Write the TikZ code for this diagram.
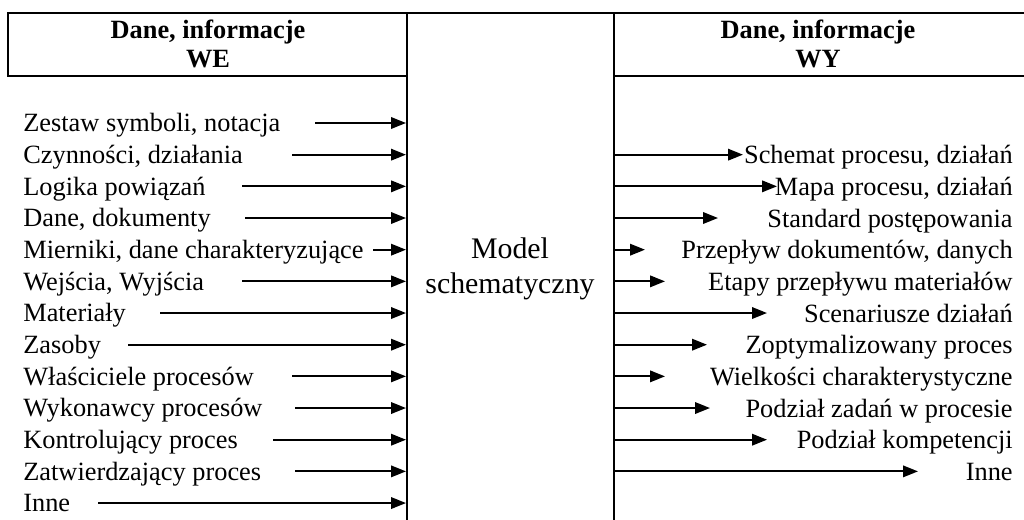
\documentclass[tikz,border=0pt]{standalone}
\usepackage{fontspec}
\setmainfont{Liberation Serif}
\usetikzlibrary{arrows.meta}

\tikzset{
  rule/.style={line width=1.4pt},
  feed/.style={-{Triangle[length=0.3cm,width=0.23cm]},line width=1.1pt},
  item/.style={inner sep=0pt,font=\fontsize{15}{18}\selectfont},
  head/.style={inner sep=0pt,align=center,font=\fontsize{15}{16.5}\selectfont\bfseries},
}

\begin{document}
\begin{tikzpicture}[x=0.02cm,y=-0.02cm]
    \useasboundingbox (0,0) rectangle (1024,520);

    % Frame
    \draw[rule] (407,520) -- (407,13) -- (8,13) -- (8,76) -- (407,76);
    \draw[rule] (407,13) -- (1024,13);
    \draw[rule] (614,520) -- (614,13);
    \draw[rule] (614,76) -- (1024,76);

    % Headers
    \node[head] (we) at (208,44) {Dane, informacje\\WE};
    \node[head] (wy) at (818,44) {Dane, informacje\\WY};

    % Model
    \node[inner sep=0pt,align=center,font=\fontsize{17}{20}\selectfont] (model) at (510,269) {Model\\schematyczny};

    % Inputs
    \foreach \k/\txt/\xs in {0/{Zestaw symboli, notacja}/315, 1/{Czynności, działania}/292,
        2/Logika powiązań/242, 3/{Dane, dokumenty}/245, 4/{Mierniki, dane charakteryzujące}/373,
        5/{Wejścia, Wyjścia}/242, 6/Materiały/160, 7/Zasoby/128, 8/Właściciele procesów/292,
        9/Wykonawcy procesów/295, 10/Kontrolujący proces/273, 11/Zatwierdzający proces/295,
        12/Inne/98} {
        \node[item,anchor=base west] (in\k) at (23,{123+31.67*\k+8.7}) {\txt};
        \coordinate (s\k) at (\xs,{123+31.67*\k});
        \coordinate (e\k) at (406,{123+31.67*\k});
        \draw[feed] (s\k) -- (e\k);
    }

    % Outputs
    \foreach \k/\txt/\xt in {1/{Schemat procesu, działań}/743, 2/{Mapa procesu, działań}/777,
        3/Standard postępowania/718, 4/{Przepływ dokumentów, danych}/645,
        5/Etapy przepływu materiałów/665, 6/Scenariusze działań/767,
        7/Zoptymalizowany proces/707, 8/Wielkości charakterystyczne/665,
        9/Podział zadań w procesie/710, 10/Podział kompetencji/767, 11/Inne/918} {
        \node[item,anchor=base east] (out\k) at (1013,{123+31.67*\k+9}) {\txt};
        \coordinate (r\k) at (615,{123+31.67*\k});
        \coordinate (t\k) at (\xt,{123+31.67*\k});
        \draw[feed] (r\k) -- (t\k);
    }
\end{tikzpicture}
\end{document}
